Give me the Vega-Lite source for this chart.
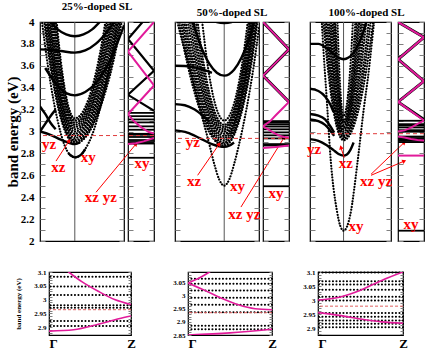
{
"$schema":"https://vega.github.io/schema/vega-lite/v6.json",
"padding":{"left":4,"top":0,"right":2,"bottom":2},
"background":"white",
"config":{"view":{"stroke":"#000","strokeWidth":1.2},"font":"Liberation Serif"},
"datasets":{
"m1d":[
{"c":"xy","u":0,"E":4.15},{"c":"xy","u":0.25,"E":3.55},{"c":"xy","u":0.5,"E":3.11},{"c":"xy","u":0.7,"E":2.88},{"c":"xy","u":0.85,"E":2.79},{"c":"xy","u":1,"E":2.764},{"c":"xy","u":1.15,"E":2.78},{"c":"xy","u":1.3,"E":2.84},{"c":"xy","u":1.5,"E":2.97},{"c":"xy","u":1.75,"E":3.24},{"c":"xy","u":2,"E":3.6},{"c":"xy","u":2.414,"E":4.4},
{"c":"i1","u":0,"E":4.323},{"c":"i1","u":0.25,"E":3.696},{"c":"i1","u":0.5,"E":3.248},{"c":"i1","u":0.7,"E":3.019},{"c":"i1","u":0.85,"E":2.922},{"c":"i1","u":1,"E":2.89},{"c":"i1","u":1.15,"E":2.904},{"c":"i1","u":1.3,"E":2.945},{"c":"i1","u":1.5,"E":3.042},{"c":"i1","u":1.75,"E":3.233},{"c":"i1","u":2,"E":3.499},{"c":"i1","u":2.414,"E":4.107},
{"c":"h12","u":0,"E":4.42},{"c":"h12","u":0.25,"E":3.76},{"c":"h12","u":0.5,"E":3.285},{"c":"h12","u":0.7,"E":3.042},{"c":"h12","u":0.85,"E":2.939},{"c":"h12","u":1,"E":2.905},{"c":"h12","u":1.15,"E":2.92},{"c":"h12","u":1.3,"E":2.962},{"c":"h12","u":1.5,"E":3.064},{"c":"h12","u":1.75,"E":3.262},{"c":"h12","u":2,"E":3.539},{"c":"h12","u":2.414,"E":4.17},
{"c":"i2","u":0,"E":4.526},{"c":"i2","u":0.25,"E":3.823},{"c":"i2","u":0.5,"E":3.322},{"c":"i2","u":0.7,"E":3.065},{"c":"i2","u":0.85,"E":2.956},{"c":"i2","u":1,"E":2.92},{"c":"i2","u":1.15,"E":2.935},{"c":"i2","u":1.3,"E":2.979},{"c":"i2","u":1.5,"E":3.085},{"c":"i2","u":1.75,"E":3.291},{"c":"i2","u":2,"E":3.579},{"c":"i2","u":2.414,"E":4.237},
{"c":"h23","u":0,"E":4.64},{"c":"h23","u":0.25,"E":3.898},{"c":"h23","u":0.5,"E":3.366},{"c":"h23","u":0.7,"E":3.094},{"c":"h23","u":0.85,"E":2.978},{"c":"h23","u":1,"E":2.94},{"c":"h23","u":1.15,"E":2.956},{"c":"h23","u":1.3,"E":3.002},{"c":"h23","u":1.5,"E":3.113},{"c":"h23","u":1.75,"E":3.329},{"c":"h23","u":2,"E":3.631},{"c":"h23","u":2.414,"E":4.32},
{"c":"i3","u":0,"E":4.76},{"c":"i3","u":0.25,"E":3.973},{"c":"i3","u":0.5,"E":3.41},{"c":"i3","u":0.7,"E":3.122},{"c":"i3","u":0.85,"E":3.0},{"c":"i3","u":1,"E":2.96},{"c":"i3","u":1.15,"E":2.976},{"c":"i3","u":1.3,"E":3.025},{"c":"i3","u":1.5,"E":3.141},{"c":"i3","u":1.75,"E":3.366},{"c":"i3","u":2,"E":3.682},{"c":"i3","u":2.414,"E":4.403},
{"c":"h34","u":0,"E":4.9},{"c":"h34","u":0.25,"E":4.06},{"c":"h34","u":0.5,"E":3.46},{"c":"h34","u":0.7,"E":3.153},{"c":"h34","u":0.85,"E":3.023},{"c":"h34","u":1,"E":2.98},{"c":"h34","u":1.15,"E":2.997},{"c":"h34","u":1.3,"E":3.049},{"c":"h34","u":1.5,"E":3.17},{"c":"h34","u":1.75,"E":3.407},{"c":"h34","u":2,"E":3.74},{"c":"h34","u":2.414,"E":4.5},
{"c":"i4","u":0.25,"E":4.148},{"c":"i4","u":0.5,"E":3.51},{"c":"i4","u":0.7,"E":3.184},{"c":"i4","u":0.85,"E":3.046},{"c":"i4","u":1,"E":3.0},{"c":"i4","u":1.15,"E":3.018},{"c":"i4","u":1.3,"E":3.072},{"c":"i4","u":1.5,"E":3.199},{"c":"i4","u":1.75,"E":3.448},{"c":"i4","u":2,"E":3.797},{"c":"i4","u":2.414,"E":4.593},
{"c":"h45","u":0.25,"E":4.25},{"c":"h45","u":0.5,"E":3.568},{"c":"h45","u":0.7,"E":3.218},{"c":"h45","u":0.85,"E":3.07},{"c":"h45","u":1,"E":3.02},{"c":"h45","u":1.15,"E":3.039},{"c":"h45","u":1.3,"E":3.096},{"c":"h45","u":1.5,"E":3.231},{"c":"h45","u":1.75,"E":3.494},{"c":"h45","u":2,"E":3.863},{"c":"h45","u":2.414,"E":4.7},
{"c":"i5","u":0.25,"E":4.359},{"c":"i5","u":0.5,"E":3.626},{"c":"i5","u":0.7,"E":3.251},{"c":"i5","u":0.85,"E":3.093},{"c":"i5","u":1,"E":3.04},{"c":"i5","u":1.15,"E":3.06},{"c":"i5","u":1.3,"E":3.12},{"c":"i5","u":1.5,"E":3.262},{"c":"i5","u":1.75,"E":3.54},{"c":"i5","u":2,"E":3.928},{"c":"i5","u":2.414,"E":4.815},
{"c":"h56","u":0.25,"E":4.49},{"c":"h56","u":0.5,"E":3.695},{"c":"h56","u":0.7,"E":3.289},{"c":"h56","u":0.85,"E":3.118},{"c":"h56","u":1,"E":3.06},{"c":"h56","u":1.15,"E":3.081},{"c":"h56","u":1.3,"E":3.145},{"c":"h56","u":1.5,"E":3.296},{"c":"h56","u":1.75,"E":3.591},{"c":"h56","u":2,"E":4.003},
{"c":"i6","u":0.25,"E":4.618},{"c":"i6","u":0.5,"E":3.764},{"c":"i6","u":0.7,"E":3.326},{"c":"i6","u":0.85,"E":3.142},{"c":"i6","u":1,"E":3.08},{"c":"i6","u":1.15,"E":3.102},{"c":"i6","u":1.3,"E":3.17},{"c":"i6","u":1.5,"E":3.33},{"c":"i6","u":1.75,"E":3.641},{"c":"i6","u":2,"E":4.078},
{"c":"h67","u":0.25,"E":4.78},{"c":"h67","u":0.5,"E":3.849},{"c":"h67","u":0.7,"E":3.37},{"c":"h67","u":0.85,"E":3.168},{"c":"h67","u":1,"E":3.1},{"c":"h67","u":1.15,"E":3.124},{"c":"h67","u":1.3,"E":3.196},{"c":"h67","u":1.5,"E":3.367},{"c":"h67","u":1.75,"E":3.7},{"c":"h67","u":2,"E":4.167},
{"c":"i7","u":0.25,"E":4.95},{"c":"i7","u":0.5,"E":3.934},{"c":"i7","u":0.7,"E":3.413},{"c":"i7","u":0.85,"E":3.193},{"c":"i7","u":1,"E":3.12},{"c":"i7","u":1.15,"E":3.146},{"c":"i7","u":1.3,"E":3.222},{"c":"i7","u":1.5,"E":3.404},{"c":"i7","u":1.75,"E":3.759},{"c":"i7","u":2,"E":4.256}
],
"m1s":[
{"c":"U","u":0.82,"E":2.8},{"c":"U","u":0.9,"E":2.778},{"c":"U","u":1,"E":2.764},{"c":"U","u":1.1,"E":2.772},{"c":"U","u":1.2,"E":2.795},{"c":"U","u":1.3,"E":2.84},
{"c":"S1","u":0.2,"E":4.04},{"c":"S1","u":0.5,"E":3.935},{"c":"S1","u":0.75,"E":3.886},{"c":"S1","u":1,"E":3.87},{"c":"S1","u":1.25,"E":3.886},{"c":"S1","u":1.5,"E":3.933},{"c":"S1","u":1.8,"E":4.03},
{"c":"S2","u":0,"E":3.75},{"c":"S2","u":0.3,"E":3.745},{"c":"S2","u":0.6,"E":3.735},{"c":"S2","u":1,"E":3.72},{"c":"S2","u":1.3,"E":3.74},{"c":"S2","u":1.6,"E":3.8},{"c":"S2","u":1.9,"E":3.9},{"c":"S2","u":2.2,"E":4.03},
{"c":"S3","u":0.15,"E":3.58},{"c":"S3","u":0.5,"E":3.42},{"c":"S3","u":0.75,"E":3.35},{"c":"S3","u":1,"E":3.33},{"c":"S3","u":1.3,"E":3.36},{"c":"S3","u":1.6,"E":3.44},{"c":"S3","u":1.9,"E":3.58},{"c":"S3","u":2.15,"E":3.75},{"c":"S3","u":2.414,"E":3.97},
{"c":"S4","u":0,"E":3.23},{"c":"S4","u":0.15,"E":3.16},{"c":"S4","u":0.3,"E":3.08},{"c":"S4","u":0.45,"E":3.02},
{"c":"S5","u":0,"E":3.0},{"c":"S5","u":0.15,"E":3.07},{"c":"S5","u":0.3,"E":3.14},{"c":"S5","u":0.45,"E":3.2},
{"c":"S6","u":0,"E":3.0},{"c":"S6","u":0.3,"E":2.97},{"c":"S6","u":0.6,"E":2.925},{"c":"S6","u":0.85,"E":2.895},{"c":"S6","u":1,"E":2.885},{"c":"S6","u":1.15,"E":2.9}
],
"n1f":[{"E":2.76},{"E":2.89},{"E":2.904},{"E":2.922},{"E":2.95},{"E":2.97},{"E":2.979},{"E":3.016},{"E":3.047},{"E":3.083},{"E":3.11},{"E":3.14},{"E":3.17}],
"n1k":[{"c":"k","u":0.56,"E":4.0,"o":1},{"c":"k","u":0,"E":3.845,"o":2},{"c":"k","u":1,"E":3.555,"o":3},{"c":"k","u":0,"E":3.335,"o":4},{"c":"k","u":1,"E":3.19,"o":5}],
"n1m":[{"c":"z","u":1,"E":4.0,"o":1},{"c":"z","u":0,"E":3.73,"o":2},{"c":"z","u":1,"E":3.42,"o":3},{"c":"z","u":0,"E":3.16,"o":4},{"c":"z","u":0.2,"E":3.1,"o":5},{"c":"z","u":0.5,"E":3.04,"o":6},{"c":"z","u":0.8,"E":2.995,"o":7},{"c":"z","u":1,"E":2.982,"o":8},
{"c":"l","u":0,"E":2.885,"o":1},{"c":"l","u":0.3,"E":2.892,"o":2},{"c":"l","u":0.6,"E":2.91,"o":3},{"c":"l","u":1,"E":2.94,"o":4}],
"m2d":[
{"c":"xy","u":0,"E":4.1},{"c":"xy","u":0.05,"E":4.0},{"c":"xy","u":0.3,"E":3.57},{"c":"xy","u":0.5,"E":3.22},{"c":"xy","u":0.7,"E":2.88},{"c":"xy","u":0.8,"E":2.7},{"c":"xy","u":0.9,"E":2.56},{"c":"xy","u":1,"E":2.505},{"c":"xy","u":1.1,"E":2.56},{"c":"xy","u":1.2,"E":2.7},{"c":"xy","u":1.3,"E":2.88},{"c":"xy","u":1.45,"E":3.2},{"c":"xy","u":1.6,"E":3.6},{"c":"xy","u":1.707,"E":3.95},
{"c":"j1","u":0,"E":4.205},{"c":"j1","u":0.25,"E":3.621},{"c":"j1","u":0.5,"E":3.204},{"c":"j1","u":0.7,"E":2.99},{"c":"j1","u":0.85,"E":2.9},{"c":"j1","u":1,"E":2.87},{"c":"j1","u":1.1,"E":2.894},{"c":"j1","u":1.2,"E":2.968},{"c":"j1","u":1.35,"E":3.169},{"c":"j1","u":1.5,"E":3.481},{"c":"j1","u":1.707,"E":4.092},
{"c":"g12","u":0,"E":4.31},{"c":"g12","u":0.25,"E":3.689},{"c":"g12","u":0.5,"E":3.243},{"c":"g12","u":0.7,"E":3.014},{"c":"g12","u":0.85,"E":2.917},{"c":"g12","u":1,"E":2.885},{"c":"g12","u":1.1,"E":2.911},{"c":"g12","u":1.2,"E":2.988},{"c":"g12","u":1.35,"E":3.199},{"c":"g12","u":1.5,"E":3.527},{"c":"g12","u":1.707,"E":4.168},
{"c":"j2","u":0,"E":4.422},{"c":"j2","u":0.25,"E":3.756},{"c":"j2","u":0.5,"E":3.281},{"c":"j2","u":0.7,"E":3.037},{"c":"j2","u":0.85,"E":2.934},{"c":"j2","u":1,"E":2.9},{"c":"j2","u":1.1,"E":2.927},{"c":"j2","u":1.2,"E":3.007},{"c":"j2","u":1.35,"E":3.229},{"c":"j2","u":1.5,"E":3.572},{"c":"j2","u":1.707,"E":4.243},
{"c":"g23","u":0,"E":4.55},{"c":"g23","u":0.25,"E":3.838},{"c":"g23","u":0.5,"E":3.329},{"c":"g23","u":0.7,"E":3.067},{"c":"g23","u":0.85,"E":2.957},{"c":"g23","u":1,"E":2.92},{"c":"g23","u":1.1,"E":2.948},{"c":"g23","u":1.2,"E":3.033},{"c":"g23","u":1.35,"E":3.265},{"c":"g23","u":1.5,"E":3.624},{"c":"g23","u":1.707,"E":4.327},
{"c":"j3","u":0,"E":4.682},{"c":"j3","u":0.25,"E":3.92},{"c":"j3","u":0.5,"E":3.376},{"c":"j3","u":0.7,"E":3.097},{"c":"j3","u":0.85,"E":2.979},{"c":"j3","u":1,"E":2.94},{"c":"j3","u":1.1,"E":2.969},{"c":"j3","u":1.2,"E":3.058},{"c":"j3","u":1.35,"E":3.301},{"c":"j3","u":1.5,"E":3.676},{"c":"j3","u":1.707,"E":4.411},
{"c":"g34","u":0,"E":4.87},{"c":"g34","u":0.25,"E":4.036},{"c":"g34","u":0.5,"E":3.438},{"c":"g34","u":0.7,"E":3.132},{"c":"g34","u":0.85,"E":3.003},{"c":"g34","u":1,"E":2.96},{"c":"g34","u":1.1,"E":2.99},{"c":"g34","u":1.2,"E":3.082},{"c":"g34","u":1.35,"E":3.333},{"c":"g34","u":1.5,"E":3.721},{"c":"g34","u":1.707,"E":4.48},
{"c":"j4","u":0.25,"E":4.151},{"c":"j4","u":0.5,"E":3.5},{"c":"j4","u":0.7,"E":3.167},{"c":"j4","u":0.85,"E":3.027},{"c":"j4","u":1,"E":2.98},{"c":"j4","u":1.1,"E":3.011},{"c":"j4","u":1.2,"E":3.106},{"c":"j4","u":1.35,"E":3.365},{"c":"j4","u":1.5,"E":3.765},{"c":"j4","u":1.707,"E":4.549},
{"c":"g45","u":0.25,"E":4.3},{"c":"g45","u":0.5,"E":3.579},{"c":"g45","u":0.7,"E":3.208},{"c":"g45","u":0.85,"E":3.052},{"c":"g45","u":1,"E":3.0},{"c":"g45","u":1.1,"E":3.033},{"c":"g45","u":1.2,"E":3.13},{"c":"g45","u":1.35,"E":3.399},{"c":"g45","u":1.5,"E":3.813},{"c":"g45","u":1.707,"E":4.625},
{"c":"j5","u":0.25,"E":4.454},{"c":"j5","u":0.5,"E":3.657},{"c":"j5","u":0.7,"E":3.249},{"c":"j5","u":0.85,"E":3.077},{"c":"j5","u":1,"E":3.02},{"c":"j5","u":1.1,"E":3.054},{"c":"j5","u":1.2,"E":3.154},{"c":"j5","u":1.35,"E":3.432},{"c":"j5","u":1.5,"E":3.86},{"c":"j5","u":1.707,"E":4.7},
{"c":"g56","u":0.25,"E":4.66},{"c":"g56","u":0.5,"E":3.762},{"c":"g56","u":0.7,"E":3.3},{"c":"g56","u":0.85,"E":3.105},{"c":"g56","u":1,"E":3.04},{"c":"g56","u":1.1,"E":3.075},{"c":"g56","u":1.2,"E":3.18},{"c":"g56","u":1.35,"E":3.468},{"c":"g56","u":1.5,"E":3.912},{"c":"g56","u":1.707,"E":4.785},
{"c":"j6","u":0.25,"E":4.87},{"c":"j6","u":0.5,"E":3.866},{"c":"j6","u":0.7,"E":3.35},{"c":"j6","u":0.85,"E":3.133},{"c":"j6","u":1,"E":3.06},{"c":"j6","u":1.1,"E":3.096},{"c":"j6","u":1.2,"E":3.205},{"c":"j6","u":1.35,"E":3.503},{"c":"j6","u":1.5,"E":3.964},{"c":"j6","u":1.707,"E":4.87},
{"c":"j7","u":0.5,"E":4.211},{"c":"j7","u":0.7,"E":3.5},{"c":"j7","u":0.85,"E":3.2},{"c":"j7","u":1,"E":3.1},{"c":"j7","u":1.1,"E":3.139},{"c":"j7","u":1.2,"E":3.256},{"c":"j7","u":1.35,"E":3.578},{"c":"j7","u":1.5,"E":4.077}
],
"m2s":[
{"c":"T1","u":0.7,"E":4.06},{"c":"T1","u":0.85,"E":4.0},{"c":"T1","u":1,"E":3.99},{"c":"T1","u":1.15,"E":4.0},{"c":"T1","u":1.3,"E":4.06},
{"c":"T2","u":0.25,"E":4.18},{"c":"T2","u":0.5,"E":3.81},{"c":"T2","u":0.7,"E":3.617},{"c":"T2","u":0.85,"E":3.537},{"c":"T2","u":1,"E":3.51},{"c":"T2","u":1.1,"E":3.523},{"c":"T2","u":1.2,"E":3.563},{"c":"T2","u":1.35,"E":3.673},{"c":"T2","u":1.5,"E":3.843},{"c":"T2","u":1.65,"E":4.07},
{"c":"T3","u":0,"E":3.6},{"c":"T3","u":0.2,"E":3.598},{"c":"T3","u":0.4,"E":3.585},{"c":"T3","u":0.6,"E":3.56},{"c":"T3","u":0.75,"E":3.535},
{"c":"T4","u":0,"E":3.25},{"c":"T4","u":0.2,"E":3.24},{"c":"T4","u":0.4,"E":3.2},{"c":"T4","u":0.55,"E":3.15},{"c":"T4","u":0.7,"E":3.09},
{"c":"T5","u":0,"E":3.01},{"c":"T5","u":0.25,"E":2.99},{"c":"T5","u":0.5,"E":2.94},{"c":"T5","u":0.75,"E":2.885},{"c":"T5","u":0.9,"E":2.865},{"c":"T5","u":1,"E":2.86},{"c":"T5","u":1.1,"E":2.87},{"c":"T5","u":1.2,"E":2.9}
],
"n2f":[{"E":2.5},{"E":2.872},{"E":2.885},{"E":2.937},{"E":2.965},{"E":2.992},{"E":3.02},{"E":3.045},{"E":3.064},{"E":3.08},{"E":3.095}],
"n2k":[{"c":"k","u":0,"E":4.0,"o":1},{"c":"k","u":1,"E":3.75,"o":2},{"c":"k","u":0,"E":3.51,"o":3},{"c":"k","u":1,"E":3.27,"o":4}],
"n2m":[{"c":"z","u":0,"E":4.0,"o":1},{"c":"z","u":1,"E":3.75,"o":2},{"c":"z","u":0,"E":3.51,"o":3},{"c":"z","u":1,"E":3.27,"o":4},{"c":"z","u":0.75,"E":3.21,"o":5},{"c":"z","u":0.5,"E":3.15,"o":6},{"c":"z","u":0.27,"E":3.093,"o":7},{"c":"z","u":0,"E":3.048,"o":8},{"c":"z","u":0.2,"E":3.02,"o":9},{"c":"z","u":0.4,"E":2.99,"o":10},{"c":"z","u":0.6,"E":2.965,"o":11},{"c":"z","u":0.8,"E":2.95,"o":12},{"c":"z","u":1,"E":2.946,"o":13},
{"c":"l","u":0,"E":2.85,"o":1},{"c":"l","u":0.5,"E":2.858,"o":2},{"c":"l","u":1,"E":2.872,"o":3}],
"m3d":[
{"c":"xy","u":0.3,"E":4.3},{"c":"xy","u":0.37,"E":3.9},{"c":"xy","u":0.5,"E":3.29},{"c":"xy","u":0.62,"E":2.73},{"c":"xy","u":0.8,"E":2.28},{"c":"xy","u":0.9,"E":2.14},{"c":"xy","u":1,"E":2.094},{"c":"xy","u":1.1,"E":2.13},{"c":"xy","u":1.2,"E":2.24},{"c":"xy","u":1.42,"E":2.73},{"c":"xy","u":1.6,"E":3.2},{"c":"xy","u":1.75,"E":3.55},{"c":"xy","u":1.91,"E":4.0},{"c":"xy","u":2.1,"E":4.5},
{"c":"k1","u":0.2,"E":4.84},{"c":"k1","u":0.4,"E":4.0},{"c":"k1","u":0.55,"E":3.528},{"c":"k1","u":0.7,"E":3.19},{"c":"k1","u":0.8,"E":3.04},{"c":"k1","u":0.9,"E":2.95},{"c":"k1","u":0.95,"E":2.9275},{"c":"k1","u":1,"E":2.92},{"c":"k1","u":1.05,"E":2.9235},{"c":"k1","u":1.1,"E":2.934},{"c":"k1","u":1.2,"E":2.976},{"c":"k1","u":1.35,"E":3.091},{"c":"k1","u":1.5,"E":3.269},{"c":"k1","u":1.7,"E":3.604},{"c":"k1","u":1.9,"E":4.05},{"c":"k1","u":2.1,"E":4.61},
{"c":"q12","u":0.2,"E":5.14},{"c":"q12","u":0.4,"E":4.174},{"c":"q12","u":0.55,"E":3.632},{"c":"q12","u":0.7,"E":3.245},{"c":"q12","u":0.8,"E":3.073},{"c":"q12","u":0.9,"E":2.97},{"c":"q12","u":0.95,"E":2.944},{"c":"q12","u":1,"E":2.935},{"c":"q12","u":1.05,"E":2.939},{"c":"q12","u":1.1,"E":2.952},{"c":"q12","u":1.2,"E":3.0},{"c":"q12","u":1.35,"E":3.135},{"c":"q12","u":1.5,"E":3.343},{"c":"q12","u":1.7,"E":3.735},{"c":"q12","u":1.9,"E":4.256},
{"c":"k2","u":0.2,"E":5.435},{"c":"k2","u":0.4,"E":4.348},{"c":"k2","u":0.55,"E":3.736},{"c":"k2","u":0.7,"E":3.299},{"c":"k2","u":0.8,"E":3.105},{"c":"k2","u":0.9,"E":2.989},{"c":"k2","u":0.95,"E":2.96},{"c":"k2","u":1,"E":2.95},{"c":"k2","u":1.05,"E":2.955},{"c":"k2","u":1.1,"E":2.969},{"c":"k2","u":1.2,"E":3.025},{"c":"k2","u":1.35,"E":3.179},{"c":"k2","u":1.5,"E":3.417},{"c":"k2","u":1.7,"E":3.865},{"c":"k2","u":1.9,"E":4.462},
{"c":"q23","u":0.4,"E":4.61},{"c":"q23","u":0.55,"E":3.89},{"c":"q23","u":0.7,"E":3.377},{"c":"q23","u":0.8,"E":3.148},{"c":"q23","u":0.9,"E":3.011},{"c":"q23","u":0.95,"E":2.977},{"c":"q23","u":1,"E":2.965},{"c":"q23","u":1.05,"E":2.971},{"c":"q23","u":1.1,"E":2.988},{"c":"q23","u":1.2,"E":3.056},{"c":"q23","u":1.35,"E":3.242},{"c":"q23","u":1.5,"E":3.53},{"c":"q23","u":1.7,"E":4.07},
{"c":"k3","u":0.4,"E":4.877},{"c":"k3","u":0.55,"E":4.047},{"c":"k3","u":0.7,"E":3.454},{"c":"k3","u":0.8,"E":3.191},{"c":"k3","u":0.9,"E":3.033},{"c":"k3","u":0.95,"E":2.993},{"c":"k3","u":1,"E":2.98},{"c":"k3","u":1.05,"E":2.987},{"c":"k3","u":1.1,"E":3.007},{"c":"k3","u":1.2,"E":3.086},{"c":"k3","u":1.35,"E":3.305},{"c":"k3","u":1.5,"E":3.643},{"c":"k3","u":1.7,"E":4.28},
{"c":"q34","u":0.55,"E":4.26},{"c":"q34","u":0.7,"E":3.559},{"c":"q34","u":0.8,"E":3.249},{"c":"q34","u":0.9,"E":3.063},{"c":"q34","u":0.95,"E":3.016},{"c":"q34","u":1,"E":3.0},{"c":"q34","u":1.05,"E":3.008},{"c":"q34","u":1.1,"E":3.032},{"c":"q34","u":1.2,"E":3.126},{"c":"q34","u":1.35,"E":3.385},{"c":"q34","u":1.5,"E":3.785},{"c":"q34","u":1.7,"E":4.54},
{"c":"k4","u":0.55,"E":4.47},{"c":"k4","u":0.7,"E":3.664},{"c":"k4","u":0.8,"E":3.306},{"c":"k4","u":0.9,"E":3.092},{"c":"k4","u":0.95,"E":3.038},{"c":"k4","u":1,"E":3.02},{"c":"k4","u":1.05,"E":3.029},{"c":"k4","u":1.1,"E":3.056},{"c":"k4","u":1.2,"E":3.165},{"c":"k4","u":1.35,"E":3.464},{"c":"k4","u":1.5,"E":3.926},{"c":"k4","u":1.7,"E":4.796},
{"c":"q45","u":0.55,"E":4.82},{"c":"q45","u":0.7,"E":3.832},{"c":"q45","u":0.8,"E":3.392},{"c":"q45","u":0.9,"E":3.128},{"c":"q45","u":0.95,"E":3.062},{"c":"q45","u":1,"E":3.04},{"c":"q45","u":1.05,"E":3.051},{"c":"q45","u":1.1,"E":3.084},{"c":"q45","u":1.2,"E":3.214},{"c":"q45","u":1.35,"E":3.574},{"c":"q45","u":1.5,"E":4.13},
{"c":"k5","u":0.55,"E":5.17},{"c":"k5","u":0.7,"E":4.0},{"c":"k5","u":0.8,"E":3.478},{"c":"k5","u":0.9,"E":3.164},{"c":"k5","u":0.95,"E":3.086},{"c":"k5","u":1,"E":3.06},{"c":"k5","u":1.05,"E":3.073},{"c":"k5","u":1.1,"E":3.111},{"c":"k5","u":1.2,"E":3.263},{"c":"k5","u":1.35,"E":3.683},{"c":"k5","u":1.5,"E":4.331},
{"c":"q56","u":0.7,"E":4.25},{"c":"q56","u":0.8,"E":3.6},{"c":"q56","u":0.9,"E":3.21},{"c":"q56","u":0.95,"E":3.113},{"c":"q56","u":1,"E":3.08},{"c":"q56","u":1.05,"E":3.096},{"c":"q56","u":1.1,"E":3.142},{"c":"q56","u":1.2,"E":3.329},{"c":"q56","u":1.35,"E":3.84},{"c":"q56","u":1.5,"E":4.63},
{"c":"k6","u":0.7,"E":4.507},{"c":"k6","u":0.8,"E":3.725},{"c":"k6","u":0.9,"E":3.256},{"c":"k6","u":0.95,"E":3.139},{"c":"k6","u":1,"E":3.1},{"c":"k6","u":1.05,"E":3.118},{"c":"k6","u":1.1,"E":3.173},{"c":"k6","u":1.2,"E":3.394},{"c":"k6","u":1.35,"E":4.0},{"c":"k6","u":1.5,"E":4.937},
{"c":"k7","u":0.7,"E":5.53},{"c":"k7","u":0.8,"E":4.202},{"c":"k7","u":0.9,"E":3.405},{"c":"k7","u":0.95,"E":3.206},{"c":"k7","u":1,"E":3.14},{"c":"k7","u":1.05,"E":3.167},{"c":"k7","u":1.1,"E":3.25},{"c":"k7","u":1.2,"E":3.579},{"c":"k7","u":1.35,"E":4.484}
],
"m3s":[
{"c":"P1","u":0,"E":3.8},{"c":"P1","u":0.25,"E":3.8},{"c":"P1","u":0.5,"E":3.76},{"c":"P1","u":0.7,"E":3.71},{"c":"P1","u":0.85,"E":3.675},{"c":"P1","u":1,"E":3.66},{"c":"P1","u":1.15,"E":3.675},{"c":"P1","u":1.3,"E":3.72},{"c":"P1","u":1.45,"E":3.8},{"c":"P1","u":1.6,"E":3.92},{"c":"P1","u":1.7,"E":4.02},
{"c":"P2","u":0,"E":3.39},{"c":"P2","u":0.25,"E":3.37},{"c":"P2","u":0.45,"E":3.32},{"c":"P2","u":0.6,"E":3.25},{"c":"P2","u":0.7,"E":3.18},
{"c":"P3","u":0,"E":3.16},{"c":"P3","u":0.25,"E":3.145},{"c":"P3","u":0.45,"E":3.11},{"c":"P3","u":0.6,"E":3.05},{"c":"P3","u":0.72,"E":2.99},
{"c":"P4","u":0,"E":3.11},{"c":"P4","u":0.25,"E":3.095},{"c":"P4","u":0.45,"E":3.06},{"c":"P4","u":0.6,"E":3.01},{"c":"P4","u":0.72,"E":2.96},
{"c":"P5","u":0,"E":2.93},{"c":"P5","u":0.25,"E":2.915},{"c":"P5","u":0.5,"E":2.875},{"c":"P5","u":0.7,"E":2.83},{"c":"P5","u":0.85,"E":2.795},{"c":"P5","u":1,"E":2.78},{"c":"P5","u":1.1,"E":2.79},{"c":"P5","u":1.2,"E":2.83},{"c":"P5","u":1.3,"E":2.9}
],
"n3f":[{"E":2.094},{"E":2.903},{"E":2.915},{"E":2.927},{"E":2.94},{"E":2.954},{"E":2.998},{"E":3.012},{"E":3.037},{"E":3.055},{"E":3.067},{"E":3.098}],
"n3k":[{"c":"k","u":0,"E":4.0,"o":1},{"c":"k","u":1,"E":3.86,"o":2},{"c":"k","u":0,"E":3.66,"o":3},{"c":"k","u":1,"E":3.46,"o":4},{"c":"k","u":0,"E":3.27,"o":5},{"c":"k","u":1,"E":3.11,"o":6}],
"n3m":[{"c":"z","u":0,"E":4.0,"o":1},{"c":"z","u":1,"E":3.86,"o":2},{"c":"z","u":0,"E":3.66,"o":3},{"c":"z","u":1,"E":3.46,"o":4},{"c":"z","u":0,"E":3.27,"o":5},{"c":"z","u":1,"E":3.1,"o":6},{"c":"z","u":0.75,"E":3.07,"o":7},{"c":"z","u":0.5,"E":3.035,"o":8},{"c":"z","u":0.25,"E":3.01,"o":9},{"c":"z","u":0,"E":3.0,"o":10},
{"c":"l","u":0,"E":2.955,"o":1},{"c":"l","u":0.25,"E":2.945,"o":2},{"c":"l","u":0.5,"E":2.932,"o":3},{"c":"l","u":0.75,"E":2.922,"o":4},{"c":"l","u":1,"E":2.917,"o":5},
{"c":"f","u":0,"E":2.78,"o":1},{"c":"f","u":1,"E":2.78,"o":2}],
"b1r":[{"E":3.083},{"E":3.047},{"E":3.016},{"E":2.979},{"E":2.97},{"E":2.922},{"E":2.904}],
"b1m":[{"c":"u","u":0,"E":3.16},{"c":"u","u":0.24,"E":3.1},{"c":"u","u":0.4,"E":3.065},{"c":"u","u":0.6,"E":3.03},{"c":"u","u":0.8,"E":3.0},{"c":"u","u":1,"E":2.982},
{"c":"l","u":0,"E":2.885},{"c":"l","u":0.3,"E":2.89},{"c":"l","u":0.6,"E":2.91},{"c":"l","u":0.85,"E":2.93},{"c":"l","u":1,"E":2.94}],
"b2r":[{"E":3.064},{"E":3.045},{"E":3.02},{"E":2.992},{"E":2.965},{"E":2.937},{"E":2.885},{"E":2.872}],
"b2m":[{"c":"a","u":0,"E":3.048},{"c":"a","u":0.15,"E":3.07},{"c":"a","u":0.27,"E":3.093},{"c":"a","u":0.4,"E":3.12},
{"c":"b","u":0,"E":3.048},{"c":"b","u":0.2,"E":3.02},{"c":"b","u":0.4,"E":2.99},{"c":"b","u":0.6,"E":2.965},{"c":"b","u":0.8,"E":2.95},{"c":"b","u":1,"E":2.946},
{"c":"l","u":0,"E":2.85},{"c":"l","u":0.5,"E":2.858},{"c":"l","u":1,"E":2.872}],
"b3r":[{"E":3.098},{"E":3.067},{"E":3.055},{"E":3.037},{"E":3.012},{"E":2.998},{"E":2.954},{"E":2.94},{"E":2.927},{"E":2.915},{"E":2.903}],
"b3m":[{"c":"u","u":0,"E":3.0},{"c":"u","u":0.25,"E":3.01},{"c":"u","u":0.5,"E":3.035},{"c":"u","u":0.75,"E":3.07},{"c":"u","u":1,"E":3.1},
{"c":"l","u":0,"E":2.955},{"c":"l","u":0.25,"E":2.945},{"c":"l","u":0.5,"E":2.932},{"c":"l","u":0.75,"E":2.922},{"c":"l","u":1,"E":2.917}],
"ann":[{"p":1,"u":0.26,"E":2.886,"s":"yz"},{"p":1,"u":0.53,"E":2.676,"s":"xz"},{"p":1,"u":1.39,"E":2.767,"s":"xy"},{"p":1,"u":1.75,"E":2.4,"s":"xz yz"},
{"p":2,"u":0.36,"E":2.9,"s":"yz"},{"p":2,"u":0.39,"E":2.55,"s":"xz"},{"p":2,"u":1.27,"E":2.5,"s":"xy"},{"p":2,"u":1.41,"E":2.25,"s":"xz yz"},
{"p":3,"u":0.12,"E":2.84,"s":"yz"},{"p":3,"u":1.07,"E":2.71,"s":"xz"},{"p":3,"u":1.37,"E":2.14,"s":"xy"},{"p":3,"u":1.97,"E":2.55,"s":"xz yz"},
{"p":11,"u":0.54,"E":2.71,"s":"xy"},{"p":12,"u":0.5,"E":2.44,"s":"xy"},{"p":13,"u":0.5,"E":2.155,"s":"xy"}],
"arr":[{"p":1,"u":0.46,"E":2.73,"u2":0.84,"E2":2.916,"a":33},{"p":1,"u":1.61,"E":2.445,"u2":2.76,"E2":2.886,"a":40},
{"p":2,"u":0.46,"E":2.6,"u2":0.9,"E2":2.886,"a":34},{"p":2,"u":1.34,"E":2.31,"u2":2.22,"E2":2.947,"a":32},
{"p":3,"u":1.02,"E":2.76,"u2":0.92,"E2":2.856,"a":-17},{"p":3,"u":1.82,"E":2.61,"u2":2.81,"E2":2.9,"a":46},{"p":3,"u":1.82,"E":2.6,"u2":2.81,"E2":2.73,"a":66}]
},
"columns":11,
"spacing":{"row":31,"column":0},
"bounds":"flush",
"concat":[
{"width":84,"height":219,
 "title":{"text":"25%-doped SL","font":"Liberation Serif","fontSize":11,"fontWeight":"bold","anchor":"middle","dx":15,"offset":4,"color":"#000"},
 "layer":[
  {"data":{"values":[{}]},"mark":{"type":"rule","color":"#555","strokeWidth":1},"encoding":{"x":{"datum":1,"type":"quantitative","scale":{"domain":[0,2.414]},"axis":null}}},
  {"data":{"name":"m1d"},"mark":{"type":"line","interpolate":"monotone","strokeDash":[0.1,2.8],"strokeCap":"round","strokeWidth":2.2,"color":"#000","clip":true},
   "encoding":{"x":{"field":"u","type":"quantitative","scale":{"domain":[0,2.414]},"axis":{"values":[0,1,2.414],"labelExpr":"datum.value==0 ? 'X' : datum.value==1 ? '\u0393' : 'M'","tickSize":0,"domain":false,"grid":false,"labelFont":"Liberation Serif","labelFontSize":15,"labelFontWeight":"bold","labelColor":"#000","labelPadding":2,"labelFlush":false,"labelOverlap":false,"labelAlign":{"condition":{"test":"datum.value>1.5","value":"right"},"value":"center"},"title":null}},
    "y":{"field":"E","type":"quantitative","scale":{"domain":[2,4]},"axis":{"orient":"left","values":[2,2.1,2.2,2.3,2.4,2.5,2.6,2.7,2.8,2.9,3,3.1,3.2,3.3,3.4,3.5,3.6,3.7,3.8,3.9,4],"tickSize":-5,"tickColor":"#808080","domain":false,"grid":false,"labelExpr":"round(datum.value*10)%2==0 ? format(datum.value,'.1~f') : ''","labelFont":"Liberation Serif","labelFontSize":11,"labelFontWeight":"bold","labelColor":"#000","labelPadding":11,"labelOverlap":false,"labelFlush":false,"minExtent":0,"title":"band energy (eV)","titleFont":"Liberation Serif","titleFontSize":15,"titleFontWeight":"bold","titleColor":"#000","titlePadding":0}},
    "detail":{"field":"c"}}},
  {"data":{"name":"m1s"},"mark":{"type":"line","interpolate":"monotone","strokeWidth":2.4,"color":"#000","clip":true},
   "encoding":{"x":{"field":"u","type":"quantitative","scale":{"domain":[0,2.414]},"axis":null},
    "y":{"field":"E","type":"quantitative","scale":{"domain":[2,4]},"axis":{"orient":"right","values":[2,2.1,2.2,2.3,2.4,2.5,2.6,2.7,2.8,2.9,3,3.1,3.2,3.3,3.4,3.5,3.6,3.7,3.8,3.9,4],"tickSize":-5,"tickColor":"#808080","domain":false,"grid":false,"labels":false,"title":null,"minExtent":0}},
    "detail":{"field":"c"}}},
  {"data":{"values":[{}]},"mark":{"type":"rule","color":"#e03c3c","strokeDash":[4,3],"strokeWidth":1},"encoding":{"y":{"datum":2.963,"type":"quantitative","scale":{"domain":[2,4]},"axis":null}}},
  {"data":{"name":"arr"},"transform":[{"filter":"datum.p==1"}],"mark":{"type":"rule","color":"#ff0000","strokeWidth":1},
   "encoding":{"x":{"field":"u","type":"quantitative","scale":{"domain":[0,2.414]},"axis":null},"y":{"field":"E","type":"quantitative","scale":{"domain":[2,4]},"axis":null},"x2":{"field":"u2"},"y2":{"field":"E2"}}},
  {"data":{"name":"arr"},"transform":[{"filter":"datum.p==1"}],"mark":{"type":"point","shape":"triangle-up","filled":true,"size":22,"color":"#ff0000","opacity":1},
   "encoding":{"x":{"field":"u2","type":"quantitative","scale":{"domain":[0,2.414]},"axis":null},"y":{"field":"E2","type":"quantitative","scale":{"domain":[2,4]},"axis":null},"angle":{"field":"a","type":"quantitative","scale":null}}},
  {"data":{"name":"ann"},"transform":[{"filter":"datum.p==1"}],"mark":{"type":"text","font":"Liberation Serif","fontSize":15,"fontWeight":"bold","color":"#ff0000"},
   "encoding":{"x":{"field":"u","type":"quantitative","scale":{"domain":[0,2.414]},"axis":null},"y":{"field":"E","type":"quantitative","scale":{"domain":[2,4]},"axis":null},"text":{"field":"s"}}}
 ],
 "resolve":{"axis":{"y":"independent"}}},
{"width":4,"height":219,"data":{"values":[{}]},"mark":{"type":"text"},"encoding":{"text":{"value":""}},"view":{"stroke":null}},
{"width":26,"height":219,
 "layer":[
  {"data":{"name":"n1f"},"mark":{"type":"rule","color":"#000","strokeWidth":1.8},
   "encoding":{"y":{"field":"E","type":"quantitative","scale":{"domain":[2,4]},"axis":{"orient":"left","values":[2,2.1,2.2,2.3,2.4,2.5,2.6,2.7,2.8,2.9,3,3.1,3.2,3.3,3.4,3.5,3.6,3.7,3.8,3.9,4],"tickSize":-5,"tickColor":"#808080","domain":false,"grid":false,"labels":false,"title":null,"minExtent":0}}}},
  {"data":{"name":"n1k"},"mark":{"type":"line","strokeWidth":2.2,"color":"#000","clip":true},
   "encoding":{"x":{"field":"u","type":"quantitative","scale":{"domain":[0,1]},"axis":{"values":[0,1],"labelExpr":"datum.value==0 ? '\u0393' : 'Z'","tickSize":0,"domain":false,"grid":false,"labelFont":"Liberation Serif","labelFontSize":15,"labelFontWeight":"bold","labelColor":"#000","labelPadding":2,"labelFlush":false,"labelOverlap":false,"title":null}},
    "y":{"field":"E","type":"quantitative","scale":{"domain":[2,4]},"axis":{"orient":"right","values":[2,2.1,2.2,2.3,2.4,2.5,2.6,2.7,2.8,2.9,3,3.1,3.2,3.3,3.4,3.5,3.6,3.7,3.8,3.9,4],"tickSize":-5,"tickColor":"#808080","domain":false,"grid":false,"labels":false,"title":null,"minExtent":0}},
    "order":{"field":"o"},"detail":{"field":"c"}}},
  {"data":{"name":"n1m"},"mark":{"type":"line","strokeWidth":2,"color":"#e11a9a","clip":true},
   "encoding":{"x":{"field":"u","type":"quantitative","scale":{"domain":[0,1]},"axis":null},"y":{"field":"E","type":"quantitative","scale":{"domain":[2,4]},"axis":null},"order":{"field":"o"},"detail":{"field":"c"}}},
  {"data":{"values":[{}]},"mark":{"type":"rule","color":"#e03c3c","strokeDash":[4,3],"strokeWidth":1},"encoding":{"y":{"datum":2.963,"type":"quantitative","scale":{"domain":[2,4]},"axis":null}}},
  {"data":{"name":"ann"},"transform":[{"filter":"datum.p==11"}],"mark":{"type":"text","font":"Liberation Serif","fontSize":15,"fontWeight":"bold","color":"#ff0000"},
   "encoding":{"x":{"field":"u","type":"quantitative","scale":{"domain":[0,1]},"axis":null},"y":{"field":"E","type":"quantitative","scale":{"domain":[2,4]},"axis":null},"text":{"field":"s"}}}
 ],
 "resolve":{"axis":{"y":"independent"}}},
{"width":21,"height":219,"data":{"values":[{}]},"mark":{"type":"text"},"encoding":{"text":{"value":""}},"view":{"stroke":null}},
{"width":84,"height":219,
 "title":{"text":"50%-doped SL","font":"Liberation Serif","fontSize":11,"fontWeight":"bold","anchor":"middle","dx":15,"offset":4,"color":"#000"},
 "layer":[
  {"data":{"values":[{}]},"mark":{"type":"rule","color":"#555","strokeWidth":1},"encoding":{"x":{"datum":1,"type":"quantitative","scale":{"domain":[0,1.707]},"axis":null}}},
  {"data":{"name":"m2d"},"mark":{"type":"line","interpolate":"monotone","strokeDash":[0.1,2.8],"strokeCap":"round","strokeWidth":2.2,"color":"#000","clip":true},
   "encoding":{"x":{"field":"u","type":"quantitative","scale":{"domain":[0,1.707]},"axis":{"values":[0,1,1.707],"labelExpr":"datum.value==0 ? 'X' : datum.value==1 ? '\u0393' : 'M'","tickSize":0,"domain":false,"grid":false,"labelFont":"Liberation Serif","labelFontSize":15,"labelFontWeight":"bold","labelColor":"#000","labelPadding":2,"labelFlush":false,"labelOverlap":false,"labelAlign":{"condition":{"test":"datum.value>1.5","value":"right"},"value":"center"},"title":null}},
    "y":{"field":"E","type":"quantitative","scale":{"domain":[2,4]},"axis":{"orient":"left","values":[2,2.1,2.2,2.3,2.4,2.5,2.6,2.7,2.8,2.9,3,3.1,3.2,3.3,3.4,3.5,3.6,3.7,3.8,3.9,4],"tickSize":-5,"tickColor":"#808080","domain":false,"grid":false,"labels":false,"title":null,"minExtent":0}},
    "detail":{"field":"c"}}},
  {"data":{"name":"m2s"},"mark":{"type":"line","interpolate":"monotone","strokeWidth":2.4,"color":"#000","clip":true},
   "encoding":{"x":{"field":"u","type":"quantitative","scale":{"domain":[0,1.707]},"axis":null},
    "y":{"field":"E","type":"quantitative","scale":{"domain":[2,4]},"axis":{"orient":"right","values":[2,2.1,2.2,2.3,2.4,2.5,2.6,2.7,2.8,2.9,3,3.1,3.2,3.3,3.4,3.5,3.6,3.7,3.8,3.9,4],"tickSize":-5,"tickColor":"#808080","domain":false,"grid":false,"labels":false,"title":null,"minExtent":0}},
    "detail":{"field":"c"}}},
  {"data":{"values":[{}]},"mark":{"type":"rule","color":"#e03c3c","strokeDash":[4,3],"strokeWidth":1},"encoding":{"y":{"datum":2.937,"type":"quantitative","scale":{"domain":[2,4]},"axis":null}}},
  {"data":{"name":"arr"},"transform":[{"filter":"datum.p==2"}],"mark":{"type":"rule","color":"#ff0000","strokeWidth":1},
   "encoding":{"x":{"field":"u","type":"quantitative","scale":{"domain":[0,1.707]},"axis":null},"y":{"field":"E","type":"quantitative","scale":{"domain":[2,4]},"axis":null},"x2":{"field":"u2"},"y2":{"field":"E2"}}},
  {"data":{"name":"arr"},"transform":[{"filter":"datum.p==2"}],"mark":{"type":"point","shape":"triangle-up","filled":true,"size":22,"color":"#ff0000","opacity":1},
   "encoding":{"x":{"field":"u2","type":"quantitative","scale":{"domain":[0,1.707]},"axis":null},"y":{"field":"E2","type":"quantitative","scale":{"domain":[2,4]},"axis":null},"angle":{"field":"a","type":"quantitative","scale":null}}},
  {"data":{"name":"ann"},"transform":[{"filter":"datum.p==2"}],"mark":{"type":"text","font":"Liberation Serif","fontSize":15,"fontWeight":"bold","color":"#ff0000"},
   "encoding":{"x":{"field":"u","type":"quantitative","scale":{"domain":[0,1.707]},"axis":null},"y":{"field":"E","type":"quantitative","scale":{"domain":[2,4]},"axis":null},"text":{"field":"s"}}}
 ],
 "resolve":{"axis":{"y":"independent"}}},
{"width":4,"height":219,"data":{"values":[{}]},"mark":{"type":"text"},"encoding":{"text":{"value":""}},"view":{"stroke":null}},
{"width":26,"height":219,
 "layer":[
  {"data":{"name":"n2f"},"mark":{"type":"rule","color":"#000","strokeWidth":1.8},
   "encoding":{"y":{"field":"E","type":"quantitative","scale":{"domain":[2,4]},"axis":{"orient":"left","values":[2,2.1,2.2,2.3,2.4,2.5,2.6,2.7,2.8,2.9,3,3.1,3.2,3.3,3.4,3.5,3.6,3.7,3.8,3.9,4],"tickSize":-5,"tickColor":"#808080","domain":false,"grid":false,"labels":false,"title":null,"minExtent":0}}}},
  {"data":{"name":"n2k"},"mark":{"type":"line","strokeWidth":3,"color":"#000","clip":true},
   "encoding":{"x":{"field":"u","type":"quantitative","scale":{"domain":[0,1]},"axis":{"values":[0,1],"labelExpr":"datum.value==0 ? '\u0393' : 'Z'","tickSize":0,"domain":false,"grid":false,"labelFont":"Liberation Serif","labelFontSize":15,"labelFontWeight":"bold","labelColor":"#000","labelPadding":2,"labelFlush":false,"labelOverlap":false,"title":null}},
    "y":{"field":"E","type":"quantitative","scale":{"domain":[2,4]},"axis":{"orient":"right","values":[2,2.1,2.2,2.3,2.4,2.5,2.6,2.7,2.8,2.9,3,3.1,3.2,3.3,3.4,3.5,3.6,3.7,3.8,3.9,4],"tickSize":-5,"tickColor":"#808080","domain":false,"grid":false,"labels":false,"title":null,"minExtent":0}},
    "order":{"field":"o"},"detail":{"field":"c"}}},
  {"data":{"name":"n2m"},"mark":{"type":"line","strokeWidth":2,"color":"#e11a9a","clip":true},
   "encoding":{"x":{"field":"u","type":"quantitative","scale":{"domain":[0,1]},"axis":null},"y":{"field":"E","type":"quantitative","scale":{"domain":[2,4]},"axis":null},"order":{"field":"o"},"detail":{"field":"c"}}},
  {"data":{"values":[{}]},"mark":{"type":"rule","color":"#e03c3c","strokeDash":[4,3],"strokeWidth":1},"encoding":{"y":{"datum":2.937,"type":"quantitative","scale":{"domain":[2,4]},"axis":null}}},
  {"data":{"name":"ann"},"transform":[{"filter":"datum.p==12"}],"mark":{"type":"text","font":"Liberation Serif","fontSize":15,"fontWeight":"bold","color":"#ff0000"},
   "encoding":{"x":{"field":"u","type":"quantitative","scale":{"domain":[0,1]},"axis":null},"y":{"field":"E","type":"quantitative","scale":{"domain":[2,4]},"axis":null},"text":{"field":"s"}}}
 ],
 "resolve":{"axis":{"y":"independent"}}},
{"width":21,"height":219,"data":{"values":[{}]},"mark":{"type":"text"},"encoding":{"text":{"value":""}},"view":{"stroke":null}},
{"width":81,"height":219,
 "title":{"text":"100%-doped SL","font":"Liberation Serif","fontSize":11,"fontWeight":"bold","anchor":"middle","dx":16,"offset":4,"color":"#000"},
 "layer":[
  {"data":{"values":[{}]},"mark":{"type":"rule","color":"#555","strokeWidth":1},"encoding":{"x":{"datum":1,"type":"quantitative","scale":{"domain":[0,2.414]},"axis":null}}},
  {"data":{"name":"m3d"},"mark":{"type":"line","interpolate":"monotone","strokeDash":[0.1,2.8],"strokeCap":"round","strokeWidth":2.2,"color":"#000","clip":true},
   "encoding":{"x":{"field":"u","type":"quantitative","scale":{"domain":[0,2.414]},"axis":{"values":[0,1,2.414],"labelExpr":"datum.value==0 ? 'X' : datum.value==1 ? '\u0393' : 'M'","tickSize":0,"domain":false,"grid":false,"labelFont":"Liberation Serif","labelFontSize":15,"labelFontWeight":"bold","labelColor":"#000","labelPadding":2,"labelFlush":false,"labelOverlap":false,"labelAlign":{"condition":{"test":"datum.value>1.5","value":"right"},"value":"center"},"title":null}},
    "y":{"field":"E","type":"quantitative","scale":{"domain":[2,4]},"axis":{"orient":"left","values":[2,2.1,2.2,2.3,2.4,2.5,2.6,2.7,2.8,2.9,3,3.1,3.2,3.3,3.4,3.5,3.6,3.7,3.8,3.9,4],"tickSize":-5,"tickColor":"#808080","domain":false,"grid":false,"labels":false,"title":null,"minExtent":0}},
    "detail":{"field":"c"}}},
  {"data":{"name":"m3s"},"mark":{"type":"line","interpolate":"monotone","strokeWidth":2.4,"color":"#000","clip":true},
   "encoding":{"x":{"field":"u","type":"quantitative","scale":{"domain":[0,2.414]},"axis":null},
    "y":{"field":"E","type":"quantitative","scale":{"domain":[2,4]},"axis":{"orient":"right","values":[2,2.1,2.2,2.3,2.4,2.5,2.6,2.7,2.8,2.9,3,3.1,3.2,3.3,3.4,3.5,3.6,3.7,3.8,3.9,4],"tickSize":-5,"tickColor":"#808080","domain":false,"grid":false,"labels":false,"title":null,"minExtent":0}},
    "detail":{"field":"c"}}},
  {"data":{"values":[{}]},"mark":{"type":"rule","color":"#e03c3c","strokeDash":[4,3],"strokeWidth":1},"encoding":{"y":{"datum":2.98,"type":"quantitative","scale":{"domain":[2,4]},"axis":null}}},
  {"data":{"name":"arr"},"transform":[{"filter":"datum.p==3"}],"mark":{"type":"rule","color":"#ff0000","strokeWidth":1},
   "encoding":{"x":{"field":"u","type":"quantitative","scale":{"domain":[0,2.414]},"axis":null},"y":{"field":"E","type":"quantitative","scale":{"domain":[2,4]},"axis":null},"x2":{"field":"u2"},"y2":{"field":"E2"}}},
  {"data":{"name":"arr"},"transform":[{"filter":"datum.p==3"}],"mark":{"type":"point","shape":"triangle-up","filled":true,"size":22,"color":"#ff0000","opacity":1},
   "encoding":{"x":{"field":"u2","type":"quantitative","scale":{"domain":[0,2.414]},"axis":null},"y":{"field":"E2","type":"quantitative","scale":{"domain":[2,4]},"axis":null},"angle":{"field":"a","type":"quantitative","scale":null}}},
  {"data":{"name":"ann"},"transform":[{"filter":"datum.p==3"}],"mark":{"type":"text","font":"Liberation Serif","fontSize":15,"fontWeight":"bold","color":"#ff0000"},
   "encoding":{"x":{"field":"u","type":"quantitative","scale":{"domain":[0,2.414]},"axis":null},"y":{"field":"E","type":"quantitative","scale":{"domain":[2,4]},"axis":null},"text":{"field":"s"}}}
 ],
 "resolve":{"axis":{"y":"independent"}}},
{"width":7,"height":219,"data":{"values":[{}]},"mark":{"type":"text"},"encoding":{"text":{"value":""}},"view":{"stroke":null}},
{"width":26,"height":219,
 "layer":[
  {"data":{"name":"n3f"},"mark":{"type":"rule","color":"#000","strokeWidth":1.8},
   "encoding":{"y":{"field":"E","type":"quantitative","scale":{"domain":[2,4]},"axis":{"orient":"left","values":[2,2.1,2.2,2.3,2.4,2.5,2.6,2.7,2.8,2.9,3,3.1,3.2,3.3,3.4,3.5,3.6,3.7,3.8,3.9,4],"tickSize":-5,"tickColor":"#808080","domain":false,"grid":false,"labels":false,"title":null,"minExtent":0}}}},
  {"data":{"name":"n3k"},"mark":{"type":"line","strokeWidth":3,"color":"#000","clip":true},
   "encoding":{"x":{"field":"u","type":"quantitative","scale":{"domain":[0,1]},"axis":{"values":[0,1],"labelExpr":"datum.value==0 ? '\u0393' : 'Z'","tickSize":0,"domain":false,"grid":false,"labelFont":"Liberation Serif","labelFontSize":15,"labelFontWeight":"bold","labelColor":"#000","labelPadding":2,"labelFlush":false,"labelOverlap":false,"title":null}},
    "y":{"field":"E","type":"quantitative","scale":{"domain":[2,4]},"axis":{"orient":"right","values":[2,2.1,2.2,2.3,2.4,2.5,2.6,2.7,2.8,2.9,3,3.1,3.2,3.3,3.4,3.5,3.6,3.7,3.8,3.9,4],"tickSize":-5,"tickColor":"#808080","domain":false,"grid":false,"labels":false,"title":null,"minExtent":0}},
    "order":{"field":"o"},"detail":{"field":"c"}}},
  {"data":{"name":"n3m"},"mark":{"type":"line","strokeWidth":2,"color":"#e11a9a","clip":true},
   "encoding":{"x":{"field":"u","type":"quantitative","scale":{"domain":[0,1]},"axis":null},"y":{"field":"E","type":"quantitative","scale":{"domain":[2,4]},"axis":null},"order":{"field":"o"},"detail":{"field":"c"}}},
  {"data":{"values":[{}]},"mark":{"type":"rule","color":"#e03c3c","strokeDash":[4,3],"strokeWidth":1},"encoding":{"y":{"datum":2.98,"type":"quantitative","scale":{"domain":[2,4]},"axis":null}}},
  {"data":{"name":"ann"},"transform":[{"filter":"datum.p==13"}],"mark":{"type":"text","font":"Liberation Serif","fontSize":15,"fontWeight":"bold","color":"#ff0000"},
   "encoding":{"x":{"field":"u","type":"quantitative","scale":{"domain":[0,1]},"axis":null},"y":{"field":"E","type":"quantitative","scale":{"domain":[2,4]},"axis":null},"text":{"field":"s"}}}
 ],
 "resolve":{"axis":{"y":"independent"}}},
{"hconcat":[
{"width":9,"height":63,"data":{"values":[{}]},"mark":{"type":"text"},"encoding":{"text":{"value":""}},"view":{"stroke":null}},
{"width":82,"height":63,
 "layer":[
  {"data":{"name":"b1r"},"mark":{"type":"rule","color":"#000","strokeWidth":2,"strokeDash":[0.1,3.4],"strokeCap":"round"},
   "encoding":{"y":{"field":"E","type":"quantitative","scale":{"domain":[2.871,3.1]},"axis":{"orient":"left","values":[2.88,2.89,2.9,2.91,2.92,2.93,2.94,2.95,2.96,2.97,2.98,2.99,3,3.01,3.02,3.03,3.04,3.05,3.06,3.07,3.08,3.09,3.1],"tickSize":-3,"tickColor":"#808080","domain":false,"grid":false,"labelExpr":"round(datum.value*100)%5==0 ? format(datum.value,'.2~f') : ''","labelFont":"Liberation Serif","labelFontSize":7,"labelFontWeight":"bold","labelColor":"#000","labelPadding":6,"labelOverlap":false,"labelFlush":false,"minExtent":0,"title":"band energy (eV)","titleFont":"Liberation Serif","titleFontSize":7,"titleFontWeight":"bold","titleColor":"#000","titlePadding":12}}}},
  {"data":{"name":"b1m"},"mark":{"type":"line","interpolate":"monotone","strokeWidth":1.6,"color":"#e11a9a","clip":true},
   "encoding":{"x":{"field":"u","type":"quantitative","scale":{"domain":[0,1]},"axis":{"values":[0,1],"labelExpr":"datum.value==0 ? '\u0393' : 'Z'","tickSize":0,"domain":false,"grid":false,"labelFont":"Liberation Serif","labelFontSize":13,"labelFontWeight":"bold","labelColor":"#000","labelPadding":2,"labelFlush":false,"labelOverlap":false,"labelAlign":{"condition":{"test":"datum.value<0.5","value":"left"},"value":"center"},"title":null}},
    "y":{"field":"E","type":"quantitative","scale":{"domain":[2.871,3.1]},"axis":{"orient":"right","values":[2.88,2.89,2.9,2.91,2.92,2.93,2.94,2.95,2.96,2.97,2.98,2.99,3,3.01,3.02,3.03,3.04,3.05,3.06,3.07,3.08,3.09,3.1],"tickSize":-3,"tickColor":"#808080","domain":false,"grid":false,"labels":false,"title":null,"minExtent":0}},
    "detail":{"field":"c"}}},
  {"data":{"values":[{}]},"mark":{"type":"rule","color":"#e06060","strokeDash":[3,2],"strokeWidth":1},"encoding":{"y":{"datum":2.963,"type":"quantitative","scale":{"domain":[2.871,3.1]},"axis":null}}}
 ],
 "resolve":{"axis":{"y":"independent"}}},
{"width":57,"height":63,"data":{"values":[{}]},"mark":{"type":"text"},"encoding":{"text":{"value":""}},"view":{"stroke":null}},
{"width":84,"height":63,
 "layer":[
  {"data":{"name":"b2r"},"mark":{"type":"rule","color":"#000","strokeWidth":2,"strokeDash":[0.1,3.4],"strokeCap":"round"},
   "encoding":{"y":{"field":"E","type":"quantitative","scale":{"domain":[2.85,3.09]},"axis":{"orient":"left","values":[2.85,2.86,2.87,2.88,2.89,2.9,2.91,2.92,2.93,2.94,2.95,2.96,2.97,2.98,2.99,3,3.01,3.02,3.03,3.04,3.05,3.06,3.07,3.08,3.09],"tickSize":-3,"tickColor":"#808080","domain":false,"grid":false,"labelExpr":"round(datum.value*100)%5==0 ? format(datum.value,'.2~f') : ''","labelFont":"Liberation Serif","labelFontSize":7,"labelFontWeight":"bold","labelColor":"#000","labelPadding":6,"labelOverlap":false,"labelFlush":false,"minExtent":0,"title":null}}}},
  {"data":{"name":"b2m"},"mark":{"type":"line","interpolate":"monotone","strokeWidth":1.6,"color":"#e11a9a","clip":true},
   "encoding":{"x":{"field":"u","type":"quantitative","scale":{"domain":[0,1]},"axis":{"values":[0,1],"labelExpr":"datum.value==0 ? '\u0393' : 'Z'","tickSize":0,"domain":false,"grid":false,"labelFont":"Liberation Serif","labelFontSize":13,"labelFontWeight":"bold","labelColor":"#000","labelPadding":2,"labelFlush":false,"labelOverlap":false,"labelAlign":{"condition":{"test":"datum.value<0.5","value":"left"},"value":"center"},"title":null}},
    "y":{"field":"E","type":"quantitative","scale":{"domain":[2.85,3.09]},"axis":{"orient":"right","values":[2.85,2.86,2.87,2.88,2.89,2.9,2.91,2.92,2.93,2.94,2.95,2.96,2.97,2.98,2.99,3,3.01,3.02,3.03,3.04,3.05,3.06,3.07,3.08,3.09],"tickSize":-3,"tickColor":"#808080","domain":false,"grid":false,"labels":false,"title":null,"minExtent":0}},
    "detail":{"field":"c"}}},
  {"data":{"values":[{}]},"mark":{"type":"rule","color":"#e06060","strokeDash":[3,2],"strokeWidth":1},"encoding":{"y":{"datum":2.935,"type":"quantitative","scale":{"domain":[2.85,3.09]},"axis":null}}}
 ],
 "resolve":{"axis":{"y":"independent"}}},
{"width":46,"height":63,"data":{"values":[{}]},"mark":{"type":"text"},"encoding":{"text":{"value":""}},"view":{"stroke":null}},
{"width":85,"height":63,
 "layer":[
  {"data":{"name":"b3r"},"mark":{"type":"rule","color":"#000","strokeWidth":2,"strokeDash":[0.1,3.4],"strokeCap":"round"},
   "encoding":{"y":{"field":"E","type":"quantitative","scale":{"domain":[2.875,3.1]},"axis":{"orient":"left","values":[2.88,2.89,2.9,2.91,2.92,2.93,2.94,2.95,2.96,2.97,2.98,2.99,3,3.01,3.02,3.03,3.04,3.05,3.06,3.07,3.08,3.09,3.1],"tickSize":-3,"tickColor":"#808080","domain":false,"grid":false,"labelExpr":"round(datum.value*100)%5==0 ? format(datum.value,'.2~f') : ''","labelFont":"Liberation Serif","labelFontSize":7,"labelFontWeight":"bold","labelColor":"#000","labelPadding":6,"labelOverlap":false,"labelFlush":false,"minExtent":0,"title":null}}}},
  {"data":{"name":"b3m"},"mark":{"type":"line","interpolate":"monotone","strokeWidth":1.6,"color":"#e11a9a","clip":true},
   "encoding":{"x":{"field":"u","type":"quantitative","scale":{"domain":[0,1]},"axis":{"values":[0,1],"labelExpr":"datum.value==0 ? '\u0393' : 'Z'","tickSize":0,"domain":false,"grid":false,"labelFont":"Liberation Serif","labelFontSize":13,"labelFontWeight":"bold","labelColor":"#000","labelPadding":2,"labelFlush":false,"labelOverlap":false,"labelAlign":{"condition":{"test":"datum.value<0.5","value":"left"},"value":"center"},"title":null}},
    "y":{"field":"E","type":"quantitative","scale":{"domain":[2.875,3.1]},"axis":{"orient":"right","values":[2.88,2.89,2.9,2.91,2.92,2.93,2.94,2.95,2.96,2.97,2.98,2.99,3,3.01,3.02,3.03,3.04,3.05,3.06,3.07,3.08,3.09,3.1],"tickSize":-3,"tickColor":"#808080","domain":false,"grid":false,"labels":false,"title":null,"minExtent":0}},
    "detail":{"field":"c"}}},
  {"data":{"values":[{}]},"mark":{"type":"rule","color":"#e06060","strokeDash":[3,2],"strokeWidth":1},"encoding":{"y":{"datum":2.978,"type":"quantitative","scale":{"domain":[2.875,3.1]},"axis":null}}}
 ],
 "resolve":{"axis":{"y":"independent"}}}
],"spacing":0,"bounds":"flush"}
]
}
